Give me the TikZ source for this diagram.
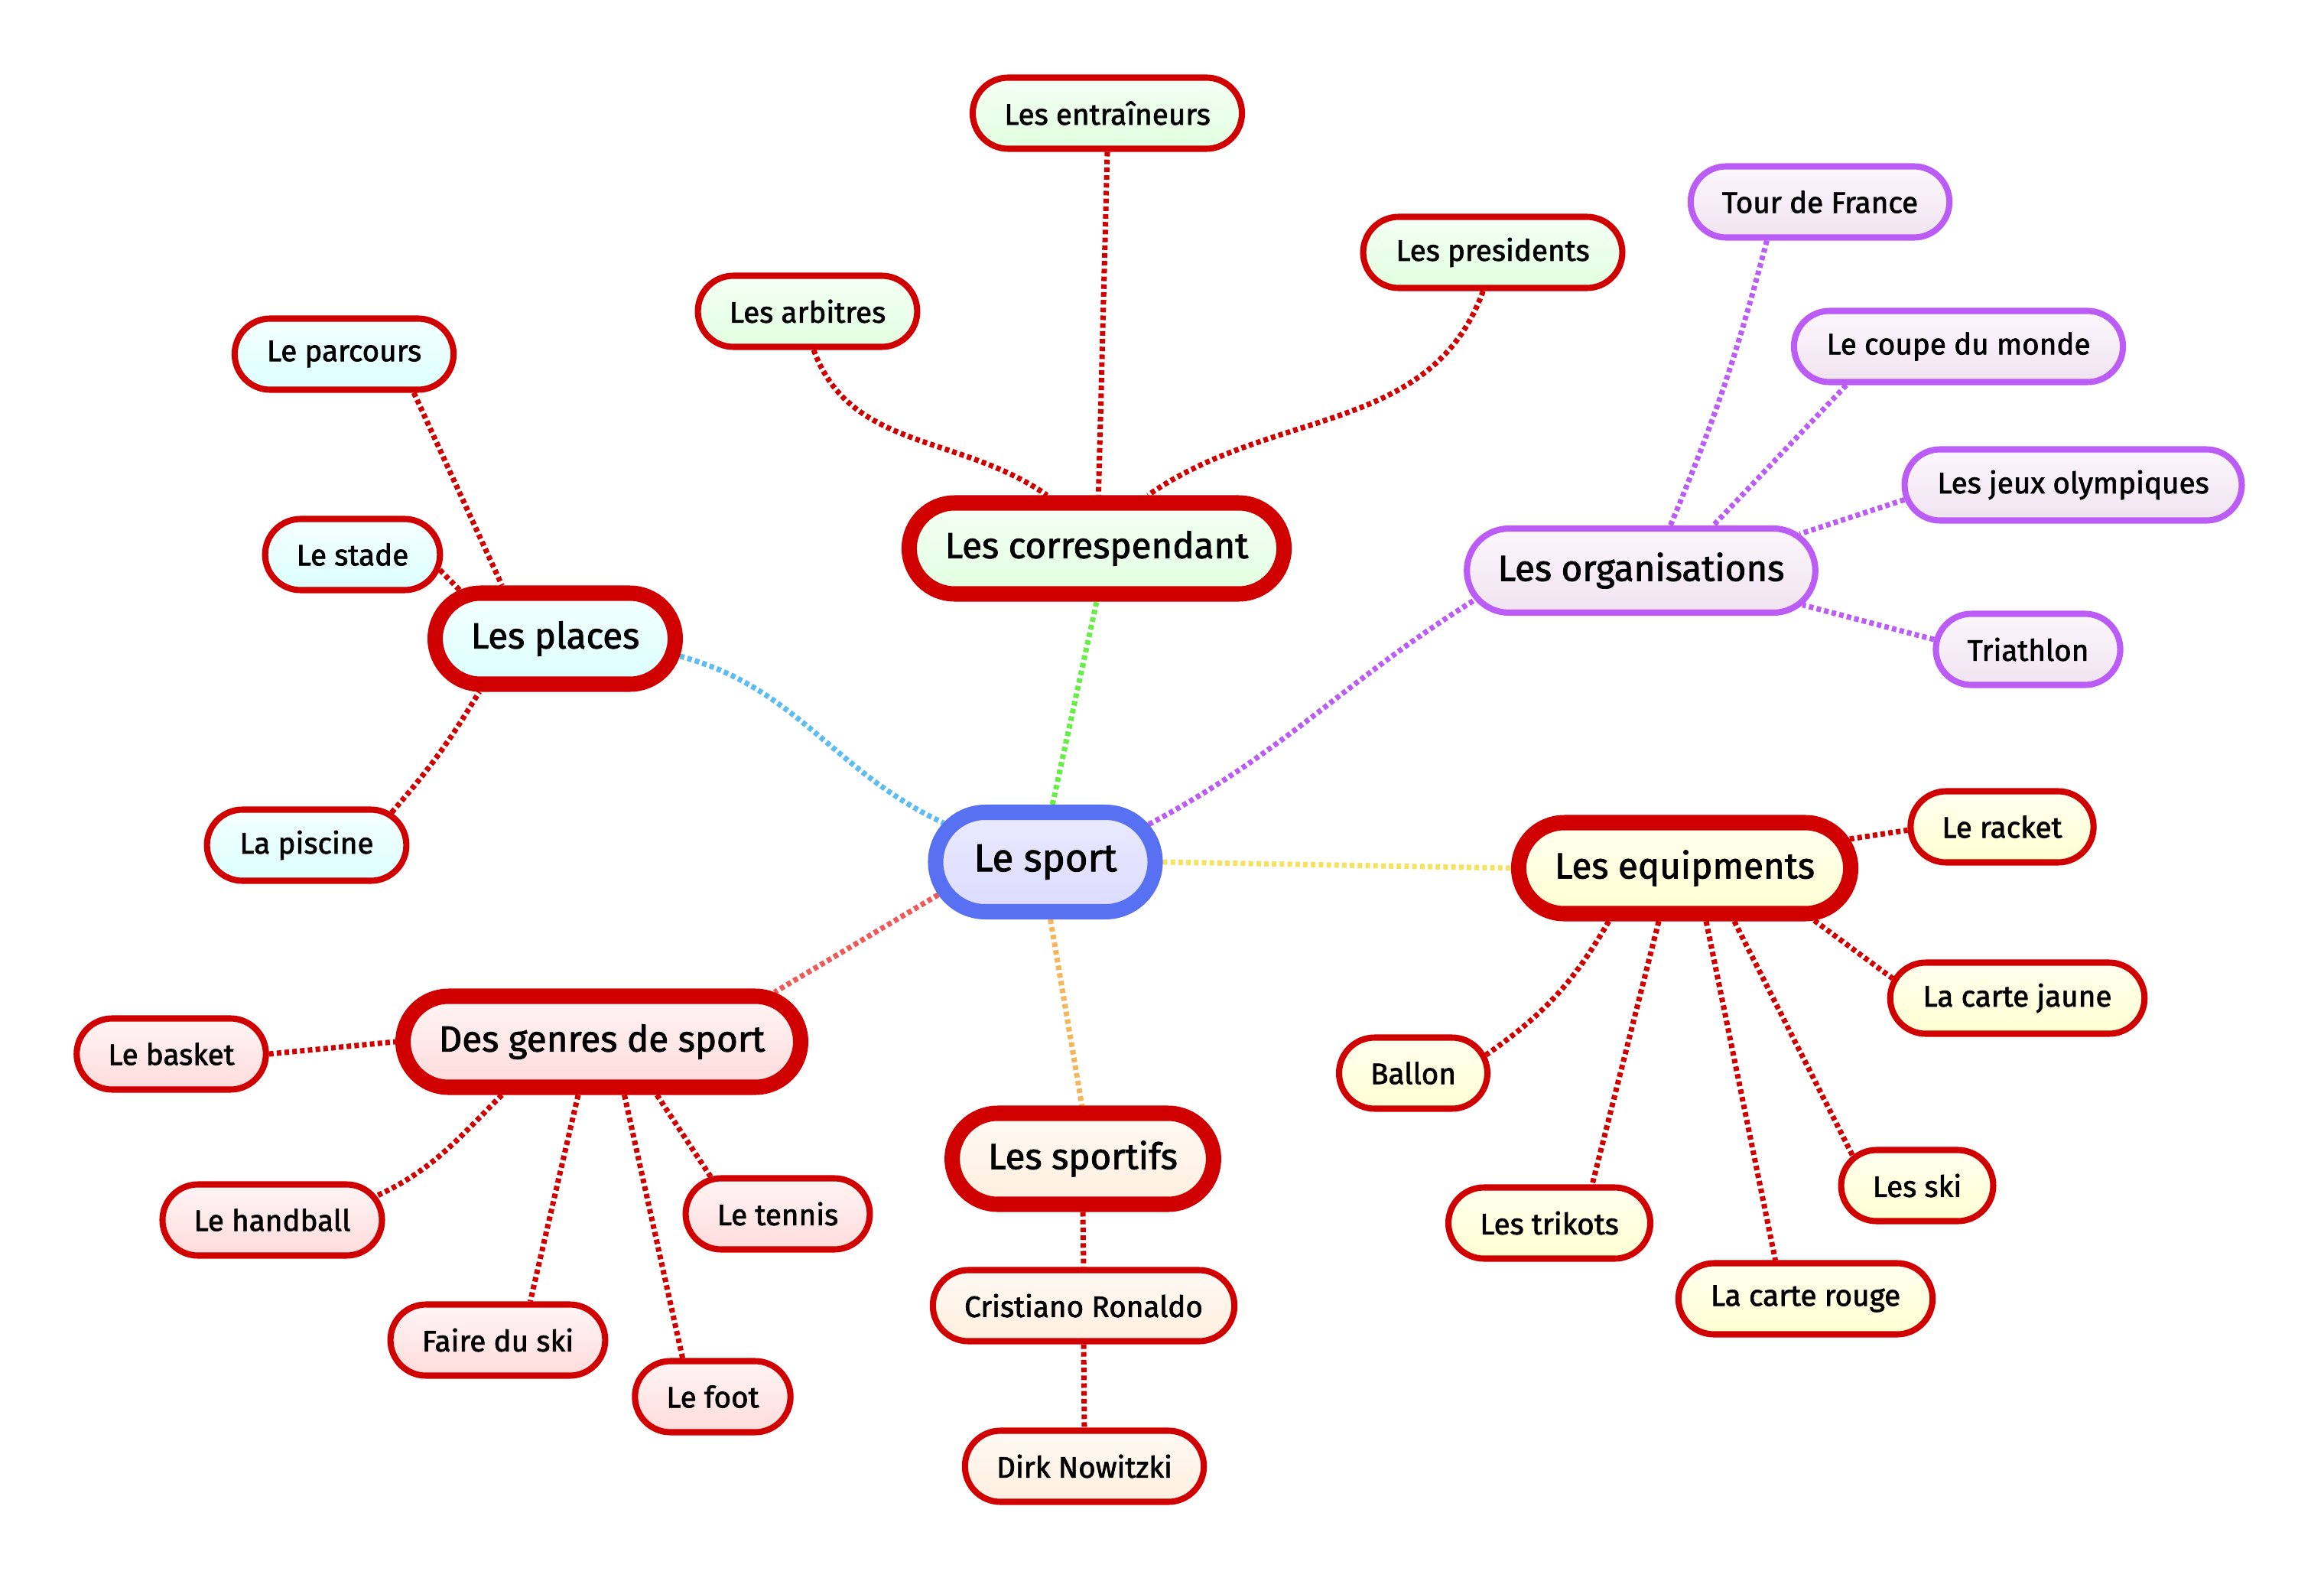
\documentclass[tikz,border=0pt]{standalone}
\usepackage{fontspec}
\setmainfont{Fira Sans}[FakeBold=1.8]
\usetikzlibrary{shapes.misc,backgrounds}
\definecolor{nodered}{HTML}{D00000}
\definecolor{hubblue}{HTML}{5870F2}
\definecolor{orgpurple}{HTML}{BB5CF7}
\definecolor{linegreen}{HTML}{66EE44}
\definecolor{lineblue}{HTML}{5CBDF0}
\definecolor{lineyellow}{HTML}{F5E260}
\definecolor{linesalmon}{HTML}{EE5A5A}
\definecolor{lineorange}{HTML}{F5B55A}
\tikzset{
  leaf/.style={rounded rectangle, draw=nodered, line width=2.3pt, minimum height=0.93cm,
    inner xsep=11pt, font=\fontsize{11}{13}\selectfont},
  branch/.style={rounded rectangle, draw=nodered, line width=5.7pt, minimum height=1.19cm,
    inner xsep=12pt, font=\fontsize{13.5}{16}\selectfont},
  conn/.style={line width=2pt, dash pattern=on 1.7pt off 1.2pt},
  hubfill/.style={top color=white!40!blue!14, bottom color=blue!14},
  greenfill/.style={top color=green!4, bottom color=green!12},
  cyanfill/.style={top color=cyan!4, bottom color=cyan!14},
  purplefill/.style={top color=violet!3, bottom color=violet!11},
  yellowfill/.style={top color=yellow!6, bottom color=yellow!18},
  pinkfill/.style={top color=red!4, bottom color=red!14},
  peachfill/.style={top color=orange!4, bottom color=orange!13},
}
\begin{document}
\begin{tikzpicture}
\useasboundingbox (0,0) rectangle (30.39,-20.67);
% hub
\node[rounded rectangle, draw=hubblue, line width=5.7pt, minimum height=1.3cm, inner xsep=13pt,
  font=\fontsize{14.5}{17}\selectfont, hubfill] (sport) at (13.67,-11.27) {Le sport};
% les correspendant
\node[branch, greenfill] (corr) at (14.34,-7.17) {Les correspendant};
\node[leaf, greenfill] (entr) at (14.48,-1.48) {Les entraîneurs};
\node[leaf, greenfill] (arb) at (10.56,-4.07) {Les arbitres};
\node[leaf, greenfill] (pres) at (19.52,-3.30) {Les presidents};
% les places
\node[branch, cyanfill] (places) at (7.26,-8.35) {Les places};
\node[leaf, cyanfill] (parc) at (4.50,-4.63) {Le parcours};
\node[leaf, cyanfill] (stade) at (4.61,-7.25) {Le stade};
\node[leaf, cyanfill] (pisc) at (4.01,-11.05) {La piscine};
% les organisations
\node[rounded rectangle, draw=orgpurple, line width=2.3pt, minimum height=1.1cm, inner xsep=10pt,
  font=\fontsize{13.5}{16}\selectfont, purplefill] (orgs) at (21.46,-7.46) {Les organisations};
\node[leaf, draw=orgpurple, purplefill] (tdf) at (23.80,-2.64) {Tour de France};
\node[leaf, draw=orgpurple, purplefill] (coupe) at (25.61,-4.53) {Le coupe du monde};
\node[leaf, draw=orgpurple, purplefill] (jeux) at (27.11,-6.34) {Les jeux olympiques};
\node[leaf, draw=orgpurple, purplefill] (tri) at (26.52,-8.49) {Triathlon};
% les equipments
\node[branch, yellowfill] (equip) at (22.03,-11.35) {Les equipments};
\node[leaf, yellowfill] (racket) at (26.18,-10.81) {Le racket};
\node[leaf, yellowfill] (jaune) at (26.38,-13.05) {La carte jaune};
\node[leaf, yellowfill] (ballon) at (18.48,-14.03) {Ballon};
\node[leaf, yellowfill] (skis) at (25.07,-15.50) {Les ski};
\node[leaf, yellowfill] (trik) at (20.26,-15.99) {Les trikots};
\node[leaf, yellowfill] (rouge) at (23.61,-16.98) {La carte rouge};
% des genres de sport
\node[branch, pinkfill] (genres) at (7.87,-13.62) {Des genres de sport};
\node[leaf, pinkfill] (basket) at (2.24,-13.78) {Le basket};
\node[leaf, pinkfill] (hand) at (3.56,-15.95) {Le handball};
\node[leaf, pinkfill] (tennis) at (10.17,-15.87) {Le tennis};
\node[leaf, pinkfill] (faire) at (6.51,-17.52) {Faire du ski};
\node[leaf, pinkfill] (foot) at (9.32,-18.26) {Le foot};
% les sportifs
\node[branch, peachfill] (sportifs) at (14.16,-15.15) {Les sportifs};
\node[leaf, peachfill] (ronaldo) at (14.17,-17.07) {Cristiano Ronaldo};
\node[leaf, peachfill] (dirk) at (14.18,-19.17) {Dirk Nowitzki};

\begin{scope}[on background layer]
% from the hub
\draw[conn, linegreen] (sport.83) -- (corr.-90);
\draw[conn, lineblue] (places.-8) to[out=-15, in=155] (sport.159);
\draw[conn, orgpurple] (sport.20) to[out=28, in=-148] (orgs.-170);
\draw[conn, lineyellow] (sport.east) -- (equip.west);
\draw[conn, linesalmon] (sport.-163) -- (genres.16);
\draw[conn, lineorange] (sport.-85) -- (sportifs.91);
% correspendant
\draw[conn, nodered] (arb.-81) to[out=-70, in=145] (corr.133);
\draw[conn, nodered] (entr.south) -- (corr.88);
\draw[conn, nodered] (pres.-104) to[out=-110, in=35] (corr.46);
% places
\draw[conn, nodered] (parc.-29) -- (places.135);
\draw[conn, nodered] (stade.-10) -- (places.153);
\draw[conn, nodered] (pisc.21) to[bend right=5] (places.-145);
% organisations
\draw[conn, orgpurple] (tdf.-144) to[bend left=4] (orgs.57);
\draw[conn, orgpurple] (coupe.-161) -- (orgs.32);
\draw[conn, orgpurple] (jeux.-175) -- (orgs.13);
\draw[conn, orgpurple] (tri.174) -- (orgs.-12);
% equipments
\draw[conn, nodered] (equip.10) -- (racket.-178);
\draw[conn, nodered] (equip.-22) -- (jaune.171);
\draw[conn, nodered] (equip.-145) to[out=-120, in=35] (ballon.14);
\draw[conn, nodered] (equip.-116) -- (trik.42);
\draw[conn, nodered] (equip.-68) -- (rouge.128);
\draw[conn, nodered] (equip.-47) -- (skis.155);
% genres
\draw[conn, nodered] (basket.east) -- (genres.west);
\draw[conn, nodered] (genres.-152) to[out=-135, in=25] (hand.13);
\draw[conn, nodered] (genres.-114) -- (faire.50);
\draw[conn, nodered] (genres.-67) -- (foot.128);
\draw[conn, nodered] (genres.-44) -- (tennis.151);
% sportifs
\draw[conn, nodered] (sportifs.south) -- (ronaldo.north);
\draw[conn, nodered] (ronaldo.south) -- (dirk.north);
\end{scope}
\end{tikzpicture}
\end{document}
